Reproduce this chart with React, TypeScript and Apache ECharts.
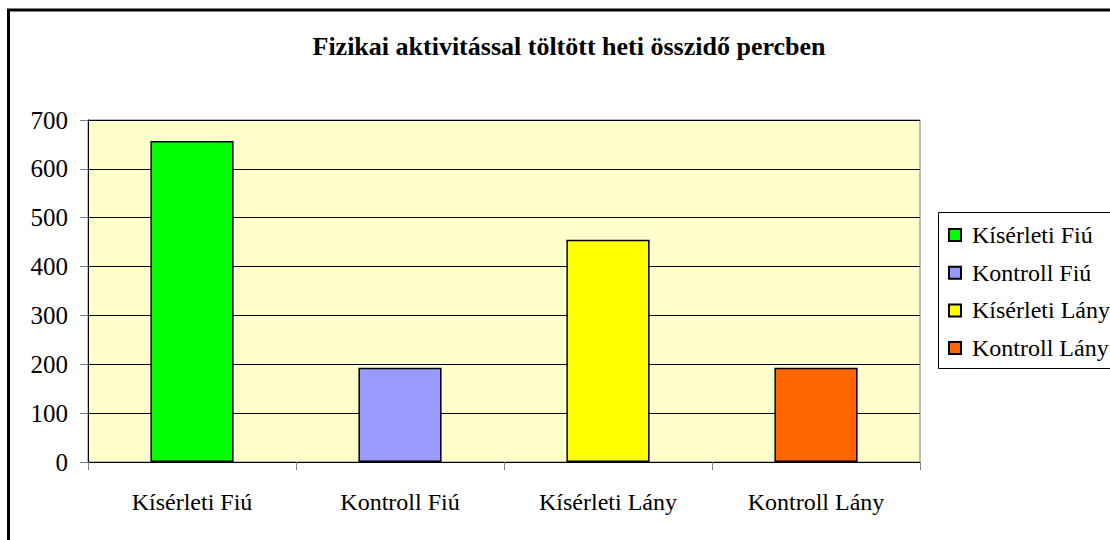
import React, { useEffect, useRef } from "react";
import * as echarts from "echarts";

const titleText = "Fizikai aktivitással töltött heti összidő percben";
const categories = ["Kísérleti Fiú", "Kontroll Fiú", "Kísérleti Lány", "Kontroll Lány"];
const values = [657, 193, 455, 193];
const colors = ["#00FF00", "#9999FF", "#FFFF00", "#FF6600"];
const yTicks = { min: 0, max: 700, interval: 100 };

const FONT = "Liberation Serif, Times New Roman, serif";

export default function App() {
  const ref = useRef<HTMLDivElement>(null);
  useEffect(() => {
    if (!ref.current) return;
    const chart = echarts.init(ref.current, null, { renderer: "svg" });
    const series = categories.map((name, i) => ({
      name,
      type: "bar",
      barWidth: "40%",
      barGap: "-100%",
      data: categories.map((_, j) => (j === i ? values[i] : null)),
      itemStyle: { color: colors[i], borderColor: "#000", borderWidth: 1.5 },
    }));
    chart.setOption({
      animation: false,
      backgroundColor: "#fff",
      textStyle: { fontFamily: FONT },
      title: {
        text: titleText,
        left: 564,
        top: 28,
        textAlign: "center",
        textStyle: { fontFamily: FONT, fontWeight: "bold", fontSize: 26, color: "#000" },
      },
      grid: {
        left: 88,
        top: 120,
        right: 190,
        bottom: 78,
        show: true,
        backgroundColor: "#FFFFCC",
        borderColor: "#808080",
        borderWidth: 1,
      },
      legend: {
        orient: "vertical",
        left: 948,
        top: 223,
        padding: 0,
        itemWidth: 12,
        itemHeight: 12,
        itemGap: 13.7,
        icon: "rect",
        textStyle: { fontFamily: FONT, fontSize: 24, color: "#000", padding: [0, 0, 0, 6] },
        data: categories,
      },
      xAxis: {
        type: "category",
        data: categories,
        axisLine: { lineStyle: { color: "#000", width: 1 } },
        axisTick: { show: true, length: 8, lineStyle: { color: "#808080" } },
        axisLabel: { fontFamily: FONT, fontSize: 24, color: "#000", margin: 28 },
        splitLine: { show: false },
      },
      yAxis: {
        type: "value",
        min: yTicks.min,
        max: yTicks.max,
        interval: yTicks.interval,
        axisLine: { show: true, lineStyle: { color: "#000", width: 1 } },
        axisTick: { show: true, length: 8, lineStyle: { color: "#808080" } },
        axisLabel: { fontFamily: FONT, fontSize: 25, color: "#000", margin: 20 },
        splitLine: { show: true, lineStyle: { color: "#000", width: 1 } },
      },
      graphic: [
        {
          type: "rect",
          shape: { x: 8.5, y: 10, width: 1200, height: 700 },
          style: { fill: "none", stroke: "#000", lineWidth: 3 },
          silent: true,
        },
        {
          type: "rect",
          shape: { x: 938.5, y: 212.5, width: 200, height: 156 },
          style: { fill: "none", stroke: "#000", lineWidth: 1 },
          silent: true,
        },
      ],
      series,
    });
    return () => chart.dispose();
  }, []);
  return <div ref={ref} style={{ position: "fixed", left: 0, top: 0, width: 1110, height: 540 }} />;
}
